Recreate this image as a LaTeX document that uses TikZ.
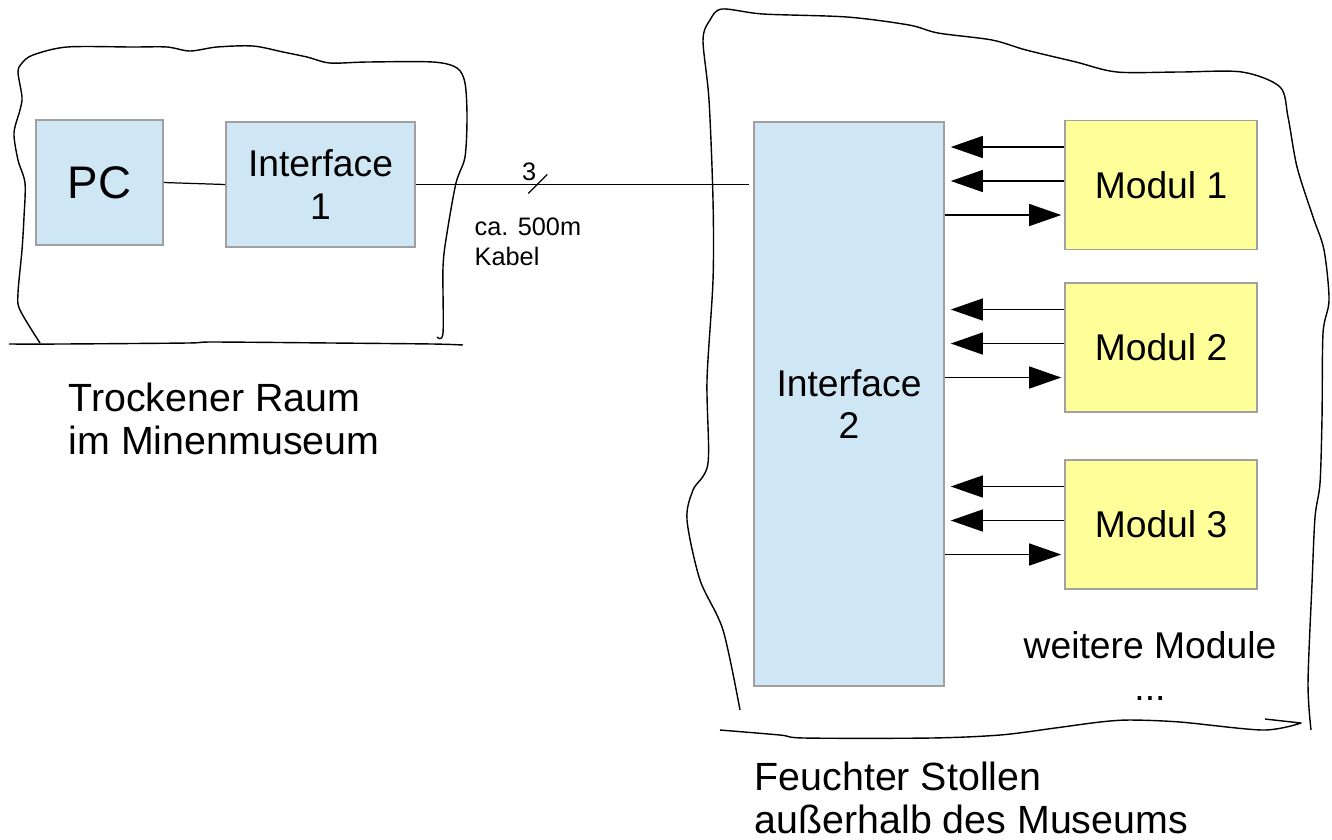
\documentclass[tikz,border=0pt]{standalone}
\usepackage{fontspec}
\setmainfont{Liberation Sans}
\usetikzlibrary{arrows.meta,calc}
\definecolor{boxblue}{HTML}{CFE7F5}
\definecolor{boxyellow}{HTML}{FFFF99}
\definecolor{boxline}{HTML}{A0A0A0}
\newcommand{\labelfont}{\fontsize{10.6}{12}\selectfont}
\newcommand{\roomfont}{\fontsize{11.2}{12.3}\selectfont}
\newcommand{\notefont}{\fontsize{7.2}{8.5}\selectfont}
\newcommand{\pcfont}{\fontsize{13}{15}\selectfont}
\tikzset{
  blockbox/.style={draw=boxline,line width=0.45pt,fill=boxblue,align=center,inner sep=0pt,font=\labelfont},
  modbox/.style={blockbox,fill=boxyellow,minimum width=1.92cm,minimum height=1.29cm},
  wire/.style={line width=0.35pt},
  sig/.style={wire,-{Triangle[length=0.32cm,width=0.22cm]}},
  sketch/.style={line width=0.4pt,line join=round}
}

\begin{document}
\begin{tikzpicture}[x=1cm,y=-1cm]
    \useasboundingbox (0,0) rectangle (13.32,8.39);
    \draw[sketch] plot[smooth] coordinates {(0.40,3.43) (0.20,3.10) (0.18,2.93) (0.22,2.50) (0.24,2.17) (0.25,1.83) (0.18,1.60) (0.14,1.33) (0.20,1.10) (0.22,0.97) (0.18,0.72) (0.22,0.63) (0.33,0.55) (0.67,0.47) (1.33,0.47) (1.67,0.47) (1.90,0.51) (2.17,0.47) (2.53,0.46) (2.83,0.52) (3.07,0.57) (3.30,0.63) (3.67,0.62) (4.33,0.62) (4.57,0.68) (4.65,0.83) (4.67,1.17) (4.65,1.57) (4.56,1.83) (4.47,2.33) (4.43,2.67) (4.43,3.33) (4.37,3.37)};
    \draw[sketch] plot[smooth] coordinates {(0.09,3.44) (0.60,3.44) (1.87,3.43) (2.13,3.42) (3.33,3.43) (4.33,3.44) (4.63,3.45)};
    \draw[sketch] plot[smooth] coordinates {(7.40,7.10) (7.23,6.30) (7.00,5.80) (6.87,5.20) (6.93,4.90) (7.08,4.63) (7.07,3.80) (7.13,2.80) (7.13,2.00) (7.09,1.00) (7.03,0.40) (7.10,0.20) (7.22,0.09) (7.63,0.14) (8.47,0.17) (9.09,0.25) (9.38,0.33) (9.92,0.40) (10.26,0.50) (10.76,0.62) (11.17,0.72) (11.80,0.72) (12.42,0.72) (12.80,0.87) (12.88,1.17) (12.97,1.67) (13.13,2.17) (13.24,2.50) (13.29,3.00) (13.23,3.33) (13.22,4.17) (13.20,4.83) (13.15,5.17) (13.12,5.83) (13.08,6.83) (13.11,7.30)};
    \draw[sketch] plot[smooth] coordinates {(7.20,7.30) (7.80,7.35) (8.05,7.38) (9.30,7.38) (10.00,7.35) (10.55,7.28) (11.00,7.22) (11.30,7.20) (11.80,7.22) (12.63,7.30) (13.01,7.23)} -- (12.65,7.19);
    \node[blockbox,minimum width=1.27cm,minimum height=1.25cm,font=\pcfont] (pc) at (0.995,1.825) {PC};
    \node[blockbox,minimum width=1.89cm,minimum height=1.25cm] (if1) at (3.205,1.845) {Interface\\1};
    \node[blockbox,minimum width=1.90cm,minimum height=5.64cm] (if2) at (8.49,4.04) {Interface\\2};
    \node[modbox] (m1) at (11.61,1.85) {Modul 1};
    \node[modbox] (m2) at (11.61,3.475) {Modul 2};
    \node[modbox] (m3) at (11.61,5.245) {Modul 3};
    \draw[wire] (pc.east) -- (if1.west);
    \draw[wire,shorten >=0.04cm] (if1.east) -- (if1.east -| if2.west) coordinate[pos=0.36] (cut);
    \draw[wire] ($(cut)+(-0.09,0.09)$) -- ($(cut)+(0.10,-0.10)$);
    \node[font=\notefont,inner sep=0] (wires) at ($(cut)+(-0.08,-0.13)$) {3};
    \node[anchor=north west,align=left,inner sep=0,font=\notefont] (cable) at (4.74,2.17) {ca. 500m\\Kabel};
    \foreach \m in {m1,m2,m3}{
      \foreach \dy in {-0.38,-0.04}
        \draw[sig,shorten >=0.06cm] ($(\m.west)+(0,\dy)$) -- ($(\m.west -| if2.east)+(0,\dy)$);
      \draw[sig,shorten >=0.03cm] ($(\m.west -| if2.east)+(0,0.30)$) -- ($(\m.west)+(0,0.30)$);
    }
    \node[anchor=north,align=center,inner sep=0,font=\labelfont] (more) at (11.50,6.31) {weitere Module\\...};
    \node[anchor=north west,align=left,inner sep=0,font=\roomfont] (dry) at (0.68,3.82) {Trockener Raum\\im Minenmuseum};
    \node[anchor=north west,align=left,inner sep=0,font=\roomfont] (wet) at (7.54,7.61) {Feuchter Stollen\\außerhalb des Museums};
  \end{tikzpicture}
\end{document}
